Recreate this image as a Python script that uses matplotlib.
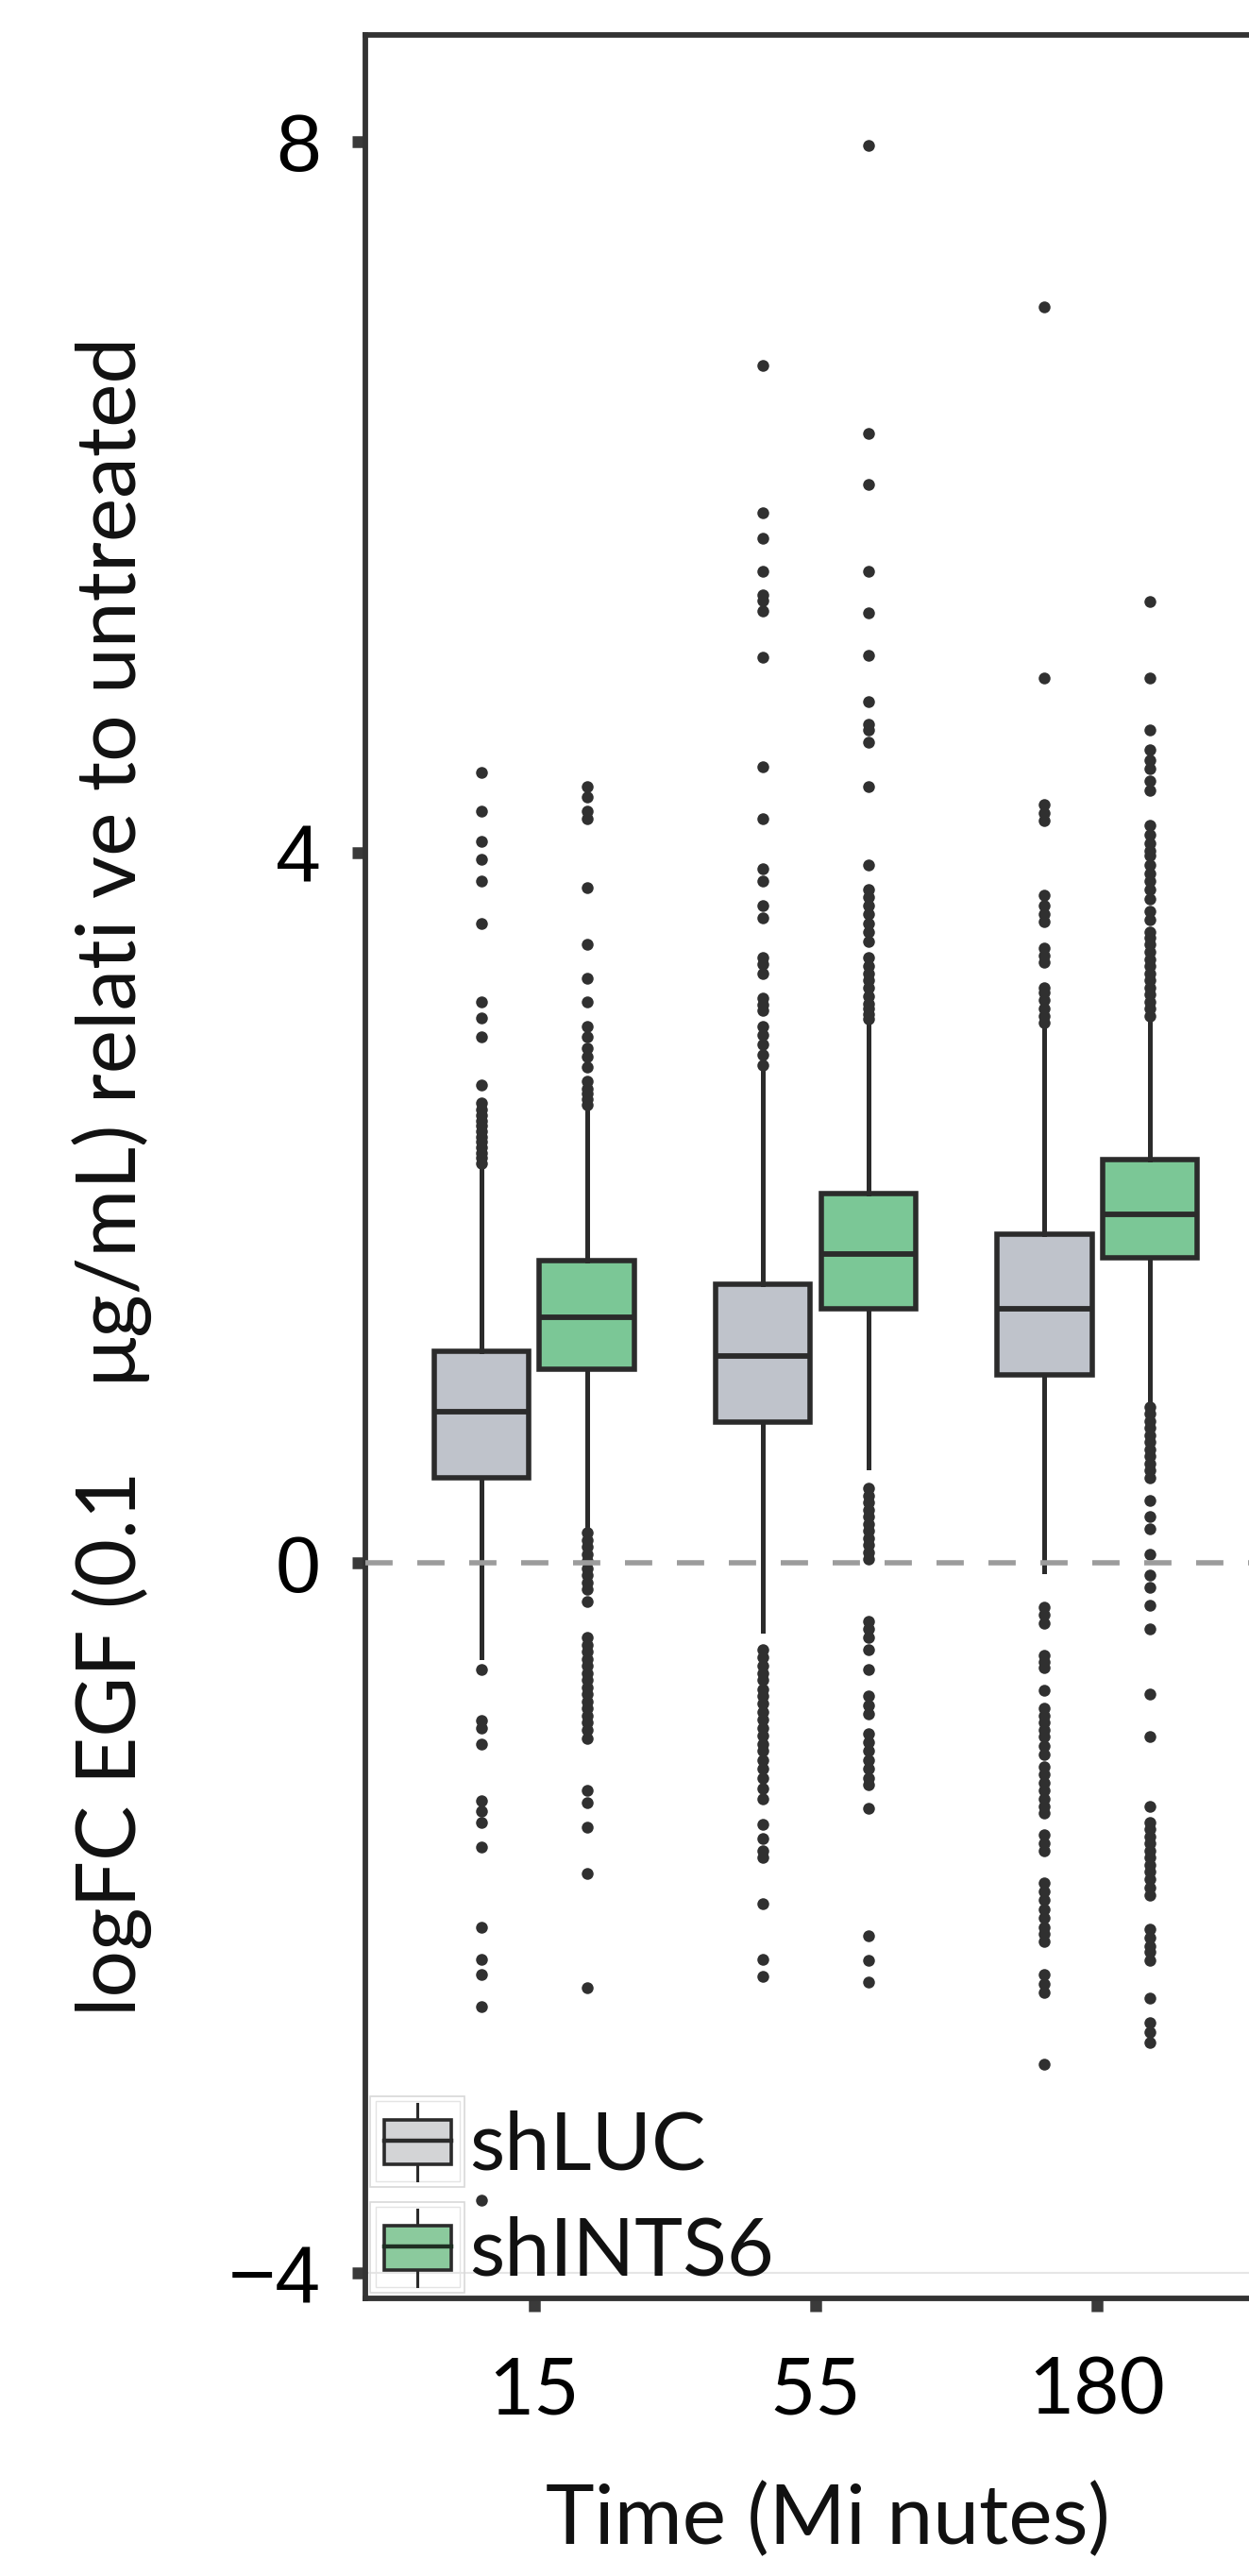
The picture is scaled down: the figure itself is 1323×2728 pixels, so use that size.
import matplotlib
matplotlib.use("Agg")
import matplotlib.pyplot as plt
from matplotlib.patches import Rectangle
import numpy as np

# data
times = ["15", "55", "180"]
groups = ["shLUC", "shINTS6"]

luc_q1 = [0.48, 0.79, 1.06]
luc_med = [0.85, 1.165, 1.43]
luc_q3 = [1.19, 1.57, 1.85]
luc_lo = [-0.53, -0.38, -0.045]
luc_hi = [2.22, 2.76, 3.01]

ints_q1 = [1.09, 1.43, 1.72]
ints_med = [1.385, 1.74, 1.96]
ints_q3 = [1.70, 2.08, 2.27]
ints_lo = [0.20, 0.535, 0.915]
ints_hi = [2.555, 3.03, 3.05]

luc_out = [
    [2.25, 2.28, 2.31, 2.34, 2.37, 2.40, 2.43, 2.46, 2.49, 2.52, 2.55, 2.59,
     2.69, 2.96, 3.07, 3.16, 3.60, 3.84, 3.96, 4.06, 4.23, 4.45,
     -0.60, -0.89, -0.93, -1.02, -1.34, -1.40, -1.46, -1.60, -2.05, -2.23,
     -2.32, -2.50, -3.59],
    [2.80, 2.86, 2.92, 2.97, 3.02, 3.11, 3.14, 3.18, 3.32, 3.37, 3.41, 3.63,
     3.70, 3.84, 3.91, 4.19, 4.48, 5.10, 5.36, 5.42, 5.45, 5.58, 5.77, 5.91,
     6.74,
     -0.49, -0.53, -0.58, -0.62, -0.66, -0.71, -0.75, -0.79, -0.84, -0.88,
     -0.93, -0.97, -1.02, -1.06, -1.11, -1.16, -1.21, -1.27, -1.33, -1.47,
     -1.55, -1.62, -1.66, -1.92, -2.23, -2.33],
    [3.04, 3.08, 3.12, 3.17, 3.21, 3.24, 3.38, 3.42, 3.46, 3.61, 3.65, 3.70,
     3.76, 4.18, 4.22, 4.27, 4.98, 7.07,
     -0.25, -0.29, -0.34, -0.52, -0.56, -0.59, -0.72, -0.82, -0.86, -0.90,
     -0.94, -0.98, -1.03, -1.08, -1.15, -1.19, -1.24, -1.28, -1.33, -1.37,
     -1.41, -1.53, -1.58, -1.62, -1.80, -1.85, -1.90, -1.95, -2.00, -2.05,
     -2.09, -2.13, -2.32, -2.37, -2.42, -2.82],
]

ints_out = [
    [2.58, 2.61, 2.64, 2.67, 2.71, 2.79, 2.85, 2.90, 2.96, 3.02, 3.16, 3.29,
     3.48, 3.80, 4.19, 4.23, 4.31, 4.37,
     0.17, 0.13, 0.09, 0.05, 0.01, -0.03, -0.07, -0.11, -0.15, -0.22, -0.42,
     -0.46, -0.50, -0.54, -0.58, -0.62, -0.66, -0.70, -0.74, -0.78, -0.82,
     -0.86, -0.90, -0.94, -0.99, -1.28, -1.35, -1.49, -1.75, -2.39],
    [3.06, 3.09, 3.12, 3.15, 3.19, 3.24, 3.28, 3.32, 3.36, 3.41, 3.50, 3.55,
     3.60, 3.65, 3.70, 3.75, 3.79, 3.93, 4.37, 4.62, 4.69, 4.72, 4.85, 5.11,
     5.35, 5.58, 6.07, 6.36, 7.98,
     0.42, 0.38, 0.34, 0.30, 0.26, 0.22, 0.18, 0.14, 0.10, 0.06, 0.02, -0.33,
     -0.37, -0.42, -0.49, -0.60, -0.75, -0.80, -0.85, -0.96, -1.01, -1.06,
     -1.11, -1.16, -1.21, -1.25, -1.38, -2.10, -2.24, -2.36],
    [3.08, 3.12, 3.16, 3.20, 3.24, 3.28, 3.32, 3.36, 3.40, 3.44, 3.48, 3.52,
     3.55, 3.62, 3.67, 3.74, 3.79, 3.84, 3.88, 3.93, 3.98, 4.01, 4.05, 4.10,
     4.15, 4.35, 4.40, 4.47, 4.52, 4.58, 4.69, 4.98, 5.41,
     0.88, 0.84, 0.80, 0.76, 0.72, 0.68, 0.64, 0.60, 0.56, 0.52, 0.48, 0.35,
     0.26, 0.19, 0.05, -0.07, -0.14, -0.24, -0.37, -0.74, -0.98, -1.37,
     -1.46, -1.50, -1.54, -1.58, -1.62, -1.66, -1.70, -1.74, -1.78, -1.83,
     -1.87, -2.06, -2.11, -2.16, -2.19, -2.24, -2.45, -2.59, -2.64, -2.70],
]

yticks = [-4, 0, 4, 8]

edge = "#2b2b2b"
fills = {"shLUC": "#bfc3cb", "shINTS6": "#7bc796"}
key_fills = {"shLUC": "#d3d4d6", "shINTS6": "#8bca9d"}

W, H = 1323, 2728
fig = plt.figure(figsize=(W / 100, H / 100), dpi=100)
ax = fig.add_axes([387 / W, 1 - 2434 / H, (1341 - 387) / W, (2434 - 37) / H])


def make_stats(q1, med, q3, lo, hi, out):
    return [dict(q1=a, med=b, q3=c, whislo=d, whishi=e, fliers=np.array(f))
            for a, b, c, d, e, f in zip(q1, med, q3, lo, hi, out)]


x = np.arange(1, len(times) + 1)
dodge = 0.1875
series = [
    ("shLUC", -dodge, make_stats(luc_q1, luc_med, luc_q3, luc_lo, luc_hi, luc_out)),
    ("shINTS6", dodge, make_stats(ints_q1, ints_med, ints_q3, ints_lo, ints_hi, ints_out)),
]

for name, off, stats in series:
    ax.bxp(stats, positions=x + off, widths=0.3375, patch_artist=True,
           showcaps=False, manage_ticks=False,
           boxprops=dict(facecolor=fills[name], edgecolor=edge, linewidth=4.0),
           medianprops=dict(color=edge, linewidth=4.2, solid_capstyle="butt"),
           whiskerprops=dict(color=edge, linewidth=3.6),
           flierprops=dict(marker="o", markerfacecolor="#303030",
                           markeredgecolor="none", markersize=9))

ax.axhline(-4, color="#e6e6e6", linewidth=1.5, zorder=0.5)
ax.axhline(0, color="#9c9c9c", linewidth=4, linestyle=(0, (5.2, 4.7)), zorder=5)

ax.set_xlim(0.4, 3.6)
ax.set_ylim(-4.141, 8.602)
ax.set_xticks(x)
ax.set_xticklabels(times, fontfamily="Lato", fontsize=60)
ax.set_yticks(yticks)
ax.set_yticklabels(["\u22124", "0", "4", "8"], fontfamily="Liberation Sans",
                   fontsize=62)
ax.tick_params(axis="both", direction="out", length=10, width=9,
               color="#3a3a3a")
ax.tick_params(axis="x", pad=34)
ax.tick_params(axis="y", pad=24)

for side in ["left", "bottom", "top"]:
    ax.spines[side].set_linewidth(4.2)
    ax.spines[side].set_color("#333333")
ax.spines["right"].set_visible(False)

# overlay in pixel units for labels and legend
ov = fig.add_axes([0, 0, 1, 1])
ov.set_xlim(0, W)
ov.set_ylim(H, 0)
ov.axis("off")

ov.text(119, 1246, "logFC EGF (0.1    \u03bcg/mL) relati ve to untreated",
        rotation=90, ha="center", va="center", fontfamily="Lato",
        fontsize=63, color="#111111")
ov.text(877, 2694, "Time (Mi nutes)", ha="center", va="baseline",
        fontfamily="Lato", fontsize=63, color="#111111")

# legend keys
key_tops = [2220, 2332]
for name, top in zip(groups, key_tops):
    ov.add_patch(Rectangle((392, top), 100, 96, fill=False,
                           edgecolor="#d8d8d8", linewidth=1.2))
    ov.add_patch(Rectangle((398, top + 5), 89, 85, fill=False,
                           edgecolor="#e4e4e4", linewidth=1.0))
    ov.plot([442, 442], [top + 8, top + 89], color=edge, linewidth=2.2)
    ov.add_patch(Rectangle((407, top + 25), 71, 47, facecolor=key_fills[name],
                           edgecolor=edge, linewidth=2.6, zorder=3))
    ov.plot([407, 478], [top + 47, top + 47], color="#1e2e22" if name == "shINTS6" else edge,
            linewidth=3.2, zorder=4)
    ov.text(497, top + 77 + (1 if name == "shINTS6" else 0), name,
            ha="left", va="baseline", fontfamily="Lato", fontsize=62,
            color="#111111")

fig.savefig("out.png", dpi=100)
